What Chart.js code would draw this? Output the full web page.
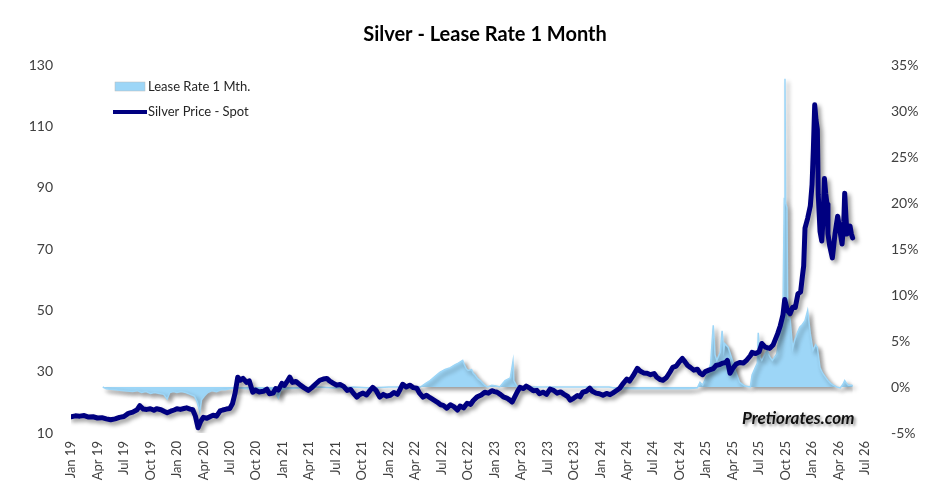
<!DOCTYPE html>
<html>
<head>
<meta charset="utf-8">
<title>Silver - Lease Rate 1 Month</title>
<script src="https://cdn.jsdelivr.net/npm/chart.js@4/dist/chart.umd.min.js"></script>
<style>
  html, body { margin: 0; padding: 0; background: #fff; }
  #wrap { width: 945px; height: 494px; position: relative; }
</style>
</head>
<body>
<div id="wrap"><canvas id="silver-lease-chart"></canvas></div>
<script>
// x values are months counted from Jan 2019 (0 = Jan 19, 90 = Jul 26)
const tickLabels = [
  'Jan 19', 'Apr 19', 'Jul 19', 'Oct 19', 'Jan 20', 'Apr 20', 'Jul 20', 'Oct 20',
  'Jan 21', 'Apr 21', 'Jul 21', 'Oct 21', 'Jan 22', 'Apr 22', 'Jul 22', 'Oct 22',
  'Jan 23', 'Apr 23', 'Jul 23', 'Oct 23', 'Jan 24', 'Apr 24', 'Jul 24', 'Oct 24',
  'Jan 25', 'Apr 25', 'Jul 25', 'Oct 25', 'Jan 26', 'Apr 26', 'Jul 26',
];

const silverMonths = [
  0, 0.5, 1, 1.5, 2, 2.5, 3, 3.5, 4, 4.5, 5, 5.5, 6, 6.5, 7, 7.5, 7.8, 8.2, 8.6, 9,
  9.4, 9.7, 10.2, 10.6, 10.9, 11.3, 11.7, 12, 12.4, 12.8, 13.1, 13.5, 13.8, 14.1, 14.4, 14.7,
  15, 15.4, 15.8, 16.1, 16.5, 16.9, 17.2, 17.6, 18, 18.3, 18.6, 18.9, 19.2, 19.5, 19.9, 20.2,
  20.6, 20.9, 21.3, 21.8, 22.2, 22.5, 22.9, 23.2, 23.5, 23.9, 24.2, 24.5, 24.8, 25.1, 25.5, 26,
  26.4, 26.9, 27.3, 27.7, 28.2, 28.6, 29, 29.3, 29.7, 30.1, 30.5, 30.9, 31.3, 31.7, 32, 32.4,
  32.7, 33.1, 33.5, 33.9, 34.2, 34.6, 35, 35.4, 35.8, 36.2, 36.6, 37, 37.3, 37.6, 38, 38.4,
  38.8, 39.2, 39.5, 39.9, 40.3, 40.7, 41.1, 41.5, 41.9, 42.2, 42.6, 43, 43.4, 43.8, 44.1, 44.5,
  44.9, 45.3, 45.6, 46, 46.5, 46.9, 47.3, 47.7, 48, 48.3, 48.7, 49, 49.4, 49.7, 50, 50.3,
  50.6, 50.9, 51.3, 51.6, 52, 52.4, 52.8, 53.1, 53.5, 53.9, 54.3, 54.7, 55.1, 55.5, 55.9, 56.3,
  56.6, 57, 57.4, 57.7, 58, 58.4, 58.8, 59.1, 59.5, 59.9, 60.3, 60.7, 61.1, 61.4, 61.8, 62.2,
  62.6, 63, 63.3, 63.7, 64.2, 64.5, 64.9, 65.3, 65.7, 66.1, 66.4, 66.8, 67.1, 67.5, 67.9, 68.2,
  68.6, 68.9, 69.3, 69.6, 69.9, 70.2, 70.6, 71, 71.3, 71.6, 71.9, 72.3, 72.8, 73.1, 73.5, 73.9,
  74.2, 74.4, 74.7, 75, 75.4, 75.8, 76.2, 76.6, 77, 77.2, 77.6, 78, 78.3, 78.7, 79.2, 79.6,
  80.1, 80.4, 80.7, 80.9, 81.2, 81.5, 81.8, 82.1, 82.4, 82.7, 82.9, 83.05, 83.2, 83.5, 83.8, 84,
  84.15, 84.3, 84.45, 84.6, 84.7, 84.9, 85.1, 85.25, 85.4, 85.55, 85.7, 85.8, 86, 86.3, 86.6, 86.9,
  87.1, 87.4, 87.6, 87.7, 87.85, 87.96, 88.1, 88.3, 88.45, 88.6,
];
const silverPrice = [
  15.3, 15.6, 15.5, 15.7, 15.2, 15.3, 14.9, 15.0, 14.6, 14.3, 14.6, 15.1, 15.4, 16.4, 16.8, 17.6, 18.9, 17.8, 17.7, 17.9,
  17.4, 17.9, 17.6, 17.0, 16.6, 17.1, 17.5, 17.9, 17.7, 18.0, 18.2, 17.8, 17.6, 15.5, 11.7, 13.8,
  15.1, 14.8, 15.4, 15.8, 15.5, 17.2, 17.5, 17.8, 18.0, 19.5, 23.0, 28.2, 27.2, 27.8, 26.5, 27.0,
  23.3, 24.0, 23.4, 23.6, 24.3, 22.8, 23.0, 24.5, 24.0, 26.2, 25.5, 26.8, 28.2, 26.5, 26.8, 25.6,
  24.8, 23.9, 24.8, 25.9, 27.2, 27.6, 27.8, 27.0, 26.3, 25.6, 25.8, 25.2, 23.9, 24.2, 23.0, 21.7,
  22.5, 23.0, 22.4, 23.9, 24.9, 23.8, 21.7, 22.6, 22.0, 22.3, 23.2, 22.6, 24.2, 25.9, 25.0, 25.6,
  24.8, 24.6, 23.0, 21.7, 22.3, 21.5, 20.8, 20.1, 19.2, 19.0, 18.1, 19.2, 18.6, 17.5, 18.8, 18.2,
  19.7, 19.3, 20.6, 21.7, 22.4, 23.3, 23.0, 23.8, 23.5, 23.3, 22.5, 21.8, 21.4, 20.8, 20.1, 21.8,
  23.5, 24.9, 24.5, 25.3, 24.6, 23.8, 23.9, 22.8, 23.3, 22.6, 24.3, 23.9, 23.0, 23.4, 22.6, 21.9,
  20.7, 21.4, 22.2, 21.8, 23.3, 23.6, 24.6, 23.6, 23.0, 22.8, 22.3, 22.9, 22.5, 23.0, 23.8, 24.6,
  26.2, 27.6, 26.9, 28.6, 31.1, 30.2, 29.6, 29.5, 29.0, 29.4, 28.2, 27.4, 27.2, 28.1, 29.9, 31.4,
  31.8, 33.0, 34.3, 33.2, 32.0, 31.4, 30.5, 30.8, 29.5, 29.0, 30.0, 30.5, 31.0, 32.0, 32.3, 32.8,
  33.0, 33.7, 29.5, 31.0, 32.5, 33.0, 32.8, 33.8, 35.2, 36.3, 35.9, 36.5, 39.2, 38.0, 37.6, 38.8,
  42.4, 45.0, 48.5, 53.5, 50.0, 48.9, 51.0, 50.9, 55.4, 56.0, 61.0, 64.5, 76.8, 80.0, 84.0, 91.0,
  102.8, 117.0, 112.0, 109.0, 87.8, 75.8, 72.6, 80.0, 93.0, 88.0, 84.6, 74.9, 71.0, 67.1, 74.9, 80.7,
  77.0, 71.6, 79.0, 88.2, 80.0, 74.9, 76.0, 77.5, 75.0, 73.6,
];

const leaseMonths = [
  3.6, 4, 5, 6, 7, 7.5, 8, 8.5, 9, 9.5, 10, 10.5, 10.9, 11.2, 11.6, 12, 12.5, 13, 13.5, 14,
  14.3, 14.6, 14.8, 15.1, 15.5, 16, 16.5, 17, 17.5, 18, 18.5, 19, 20, 21, 22, 23, 23.5, 23.8,
  24.5, 26, 28, 30, 32, 34, 36, 38, 39.6, 40.2, 40.7, 41.3, 41.8, 42.4, 43, 43.5, 43.9, 44.4,
  44.6, 44.8, 45, 45.4, 45.6, 45.8, 46.1, 46.4, 46.6, 46.9, 47.2, 47.7, 48.2, 48.6, 49.2, 49.8,
  50.1, 50.2, 50.6, 52, 55, 58, 61, 62, 64, 66, 68, 70, 71, 71.3, 71.6, 72.1, 72.5, 72.8,
  73, 73.2, 73.6, 73.8, 74, 74.1, 74.5, 74.9, 75.3, 75.8, 76.4, 77, 77.2, 77.6, 77.8, 77.9,
  78.1, 78.3, 78.6, 78.9, 79.2, 79.5, 80, 80.4, 80.7, 80.85, 80.93, 81, 81.15, 81.25, 81.5, 81.8,
  82, 82.3, 82.6, 82.9, 83.2, 83.5, 83.8, 84.1, 84.4, 84.6, 84.9, 85.2, 85.5, 85.8, 86.1, 86.4,
  86.8, 87.2, 87.5, 87.7, 87.9, 88.1, 88.5, 88.6,
];
const leaseRate = [
  0.0, -0.2, -0.3, -0.4, -0.5, -0.4, -0.6, -0.5, -0.7, -0.6, -0.7, -0.8, -1.3, -0.6, -0.5, -0.6, -0.5, -0.6, -0.8, -1.0,
  -1.6, -2.7, -1.4, -1.0, -0.6, -0.4, -0.5, -0.3, -0.3, -0.2, -0.1, -0.1, -0.2, -0.3, -0.2, -0.3, -1.2, -0.3,
  -0.2, -0.1, 0.0, -0.1, 0.0, -0.1, 0.0, 0.0, 0.0, 0.4, 0.7, 1.2, 1.6, 1.9, 2.1, 2.4, 2.6, 2.9,
  2.4, 2.0, 1.8, 1.9, 1.5, 1.3, 0.9, 0.7, 0.5, 0.2, 0.0, 0.2, 0.1, 0.0, 0.7, 1.0,
  2.8, 0.7, 0.0, 0.0, 0.0, 0.0, 0.0, -0.2, -0.2, -0.2, -0.2, -0.2, -0.1, 0.5, 0.2, 1.3, 2.5, 6.7,
  3.5, 2.9, 3.8, 6.1, 4.0, 4.7, 4.3, 3.1, 1.8, 0.5, 0.1, 0.0, 1.3, 2.2, 2.6, 5.9,
  3.2, 2.9, 3.5, 4.0, 3.3, 2.9, 3.6, 6.1, 8.0, 20.5, 33.5, 20.0, 19.5, 7.5, 7.5, 4.2,
  5.0, 5.8, 6.5, 6.8, 7.2, 8.3, 5.8, 4.0, 4.6, 4.3, 2.1, 1.5, 1.1, 0.7, 0.4, 0.2,
  0.0, -0.1, 0.3, 0.7, 0.4, 0.2, 0.2, 0.1,
];

const NAVY = '#000080';
const LEASE_BLUE = '#9dd6f7';
const TICK_COLOR = '#404040';

const SilverLeaseChart = (() => {
  let chart = null;

  // Excel-style soft drop shadow under the area and the line
  const shadowPlugin = {
    id: 'dropShadow',
    beforeDatasetsDraw(c) {
      const ctx = c.ctx;
      ctx.save();
      ctx.shadowColor = 'rgba(0,0,0,0.4)';
      ctx.shadowBlur = 4;
      ctx.shadowOffsetX = 3;
      ctx.shadowOffsetY = 3;
    },
    afterDatasetsDraw(c) { c.ctx.restore(); },
  };

  // legend inside the plot plus the site watermark
  const overlayPlugin = {
    id: 'overlay',
    afterDraw(c) {
      const ctx = c.ctx;
      ctx.save();
      ctx.font = '13px Lato';
      ctx.textBaseline = 'middle';
      ctx.fillStyle = LEASE_BLUE;
      ctx.fillRect(115, 82, 30, 9);
      ctx.strokeStyle = '#bbbbbb';
      ctx.lineWidth = 0.5;
      ctx.strokeRect(115, 82, 30, 9);
      ctx.fillStyle = '#262626';
      ctx.fillText('Lease Rate 1 Mth.', 148, 87);

      ctx.strokeStyle = NAVY;
      ctx.lineWidth = 4;
      ctx.beginPath();
      ctx.moveTo(113, 112);
      ctx.lineTo(147, 112);
      ctx.stroke();
      ctx.fillText('Silver Price - Spot', 148, 112);

      ctx.font = 'italic bold 17px Lato';
      ctx.shadowColor = 'rgba(0,0,0,0.45)';
      ctx.shadowBlur = 3;
      ctx.shadowOffsetX = 2;
      ctx.shadowOffsetY = 2;
      ctx.fillStyle = '#111111';
      ctx.fillText('Pretiorates.com', 742, 419);
      ctx.restore();
    },
  };

  function render(canvas) {
    if (chart) { chart.destroy(); chart = null; }
    if (!canvas || !window.Chart) return;

    Chart.defaults.font.family = 'Lato';

    const silverPoints = silverMonths.map((m, i) => ({ x: m, y: silverPrice[i] }));
    const leasePoints = leaseMonths.map((m, i) => ({ x: m, y: leaseRate[i] }));
    const tickFont = { size: 14 };

    chart = new Chart(canvas, {
      type: 'line',
      data: {
        datasets: [
          {
            label: 'Silver Price - Spot', data: silverPoints, yAxisID: 'y', order: 0,
            borderColor: NAVY, borderWidth: 5, pointRadius: 0, tension: 0, fill: false,
            borderJoinStyle: 'round', borderCapStyle: 'round',
          },
          {
            label: 'Lease Rate 1 Mth.', data: leasePoints, yAxisID: 'y1', order: 1,
            borderColor: LEASE_BLUE, borderWidth: 1.5, backgroundColor: LEASE_BLUE,
            pointRadius: 0, tension: 0, fill: 'origin',
          },
        ],
      },
      options: {
        animation: false, responsive: true, maintainAspectRatio: false,
        layout: { padding: { left: 25, right: 0, top: 0, bottom: 0 } },
        plugins: {
          legend: { display: false },
          tooltip: { enabled: false },
          title: {
            display: true, text: 'Silver - Lease Rate 1 Month', color: '#000',
            font: { size: 20, weight: 'bold' }, padding: { top: 23, bottom: 18 },
          },
        },
        scales: {
          x: {
            type: 'linear', min: 0, max: 90,
            grid: { display: false }, border: { display: false },
            ticks: {
              stepSize: 3, autoSkip: false, maxRotation: 90, minRotation: 90, padding: 0,
              color: TICK_COLOR, font: { size: 13 },
              callback: v => tickLabels[Math.round(v / 3)] || '',
            },
            afterFit: s => { s.height = 61; },
          },
          y: {
            position: 'left', min: 10, max: 130,
            grid: { display: false }, border: { display: false },
            ticks: { stepSize: 20, padding: 10, color: TICK_COLOR, font: tickFont },
            afterFit: s => { s.width = 46; },
          },
          y1: {
            position: 'right', min: -5, max: 35,
            grid: { display: false }, border: { display: false },
            ticks: { stepSize: 5, padding: 18, color: TICK_COLOR, font: tickFont, callback: v => `${v}%` },
            afterFit: s => { s.width = 80; },
          },
        },
      },
      plugins: [shadowPlugin, overlayPlugin],
    });
  }

  return { render };
})();

SilverLeaseChart.render(document.getElementById('silver-lease-chart'));
</script>
</body>
</html>
